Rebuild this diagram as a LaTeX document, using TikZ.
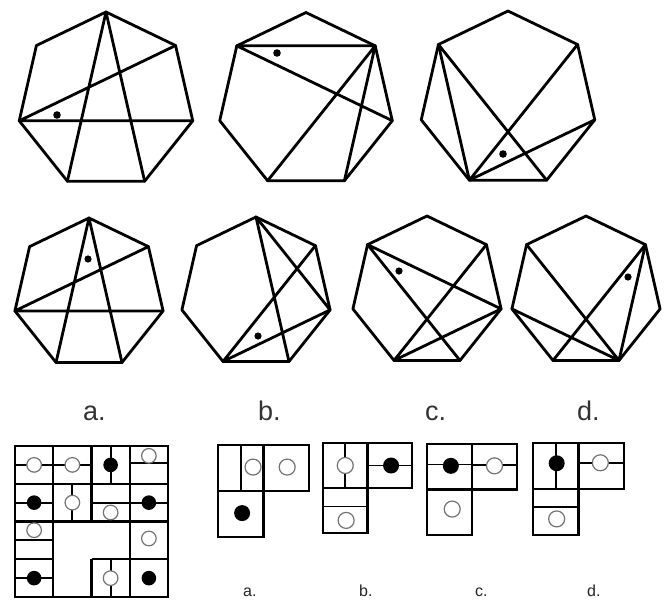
\documentclass[tikz,border=0pt]{standalone}
\usepackage{fontspec}
\setmainfont{Liberation Sans}
\newcommand{\myhept}[4]{%
  \foreach \n/\a in {T/90,UR/38.571,R/-12.857,BR/-64.286,BL/-115.714,L/-167.143,UL/141.429}
    {\coordinate (#1-\n) at ({#2+#4*cos(\a)},{#3-#4*sin(\a)});}
  \draw[hep] (#1-T)--(#1-UR)--(#1-R)--(#1-BR)--(#1-BL)--(#1-L)--(#1-UL)--cycle;
}
\begin{document}
\begin{tikzpicture}[x=1pt,y=-1pt,
  hep/.style={line width=2.8pt, line join=round, line cap=round},
  dotf/.style={fill=black},
  box/.style={line width=2.1pt, line join=miter},
  inl/.style={line width=1.9pt},
  opn/.style={draw=black!55, fill=white, line width=1.2pt},
  fil/.style={fill=black},
  biglab/.style={font=\fontsize{27}{30}\selectfont, text=black!80, inner sep=0pt, anchor=base west},
  smllab/.style={font=\fontsize{16}{18}\selectfont, text=black!85, inner sep=0pt, anchor=base west}]
\useasboundingbox (0,0) rectangle (668,600);
\fill[white] (0,0) rectangle (668,600);

% ---- top row heptagons ----
\myhept{h1}{106}{101}{89}
\draw[hep] (h1-T)--(h1-BL) (h1-T)--(h1-BR) (h1-L)--(h1-UR) (h1-L)--(h1-R);
\fill[dotf] (57,115) circle (3.8);

\myhept{h2}{306}{101}{88.5}
\draw[hep] (h2-UL)--(h2-UR) (h2-UL)--(h2-R) (h2-UR)--(h2-BL) (h2-UR)--(h2-BR);
\fill[dotf] (277,53) circle (3.8);

\myhept{h3}{508}{100}{89}
\draw[hep] (h3-UL)--(h3-BL) (h3-UL)--(h3-BR) (h3-UR)--(h3-BL) (h3-R)--(h3-BL);
\fill[dotf] (503,154) circle (3.8);

% ---- second row heptagons ----
\myhept{ha}{89}{294}{76}
\draw[hep] (ha-T)--(ha-BL) (ha-T)--(ha-BR) (ha-L)--(ha-UR) (ha-L)--(ha-R);
\fill[dotf] (88,259) circle (3.6);

\myhept{hb}{256}{293}{76}
\draw[hep] (hb-T)--(hb-BR) (hb-T)--(hb-R) (hb-UR)--(hb-BL) (hb-R)--(hb-BL);
\fill[dotf] (258,336) circle (3.6);

\myhept{hc}{427}{292}{76}
\draw[hep] (hc-UL)--(hc-R) (hc-UL)--(hc-BR) (hc-UR)--(hc-BL) (hc-R)--(hc-BL);
\fill[dotf] (399,271) circle (3.6);

\myhept{hd}{586}{292}{76}
\draw[hep] (hd-UL)--(hd-BR) (hd-UR)--(hd-BL) (hd-UR)--(hd-BR) (hd-L)--(hd-BR);
\fill[dotf] (628,277) circle (3.6);

% ---- labels under heptagons ----
\node[biglab] (la) at (83,420) {a.};
\node[biglab] (lb) at (258,420) {b.};
\node[biglab] (lc) at (425,420) {c.};
\node[biglab] (ld) at (577,420) {d.};

% ---- grid ----
\begin{scope}[shift={(15,446)}, x=38.25pt, y=-37.75pt]
  \draw[inl] (0,.5)--(2,.5) (2.5,0)--(2.5,1) (3,.46)--(4,.46)
             (0,1.5)--(1,1.5) (1.5,1)--(1.5,2) (2,1.5)--(3,1.5) (3,1.5)--(4,1.5)
             (0,2.5)--(1,2.5) (0,3.5)--(1,3.5) (2.5,3)--(2.5,4);
  \draw[box] (0,0) rectangle (4,4);
  \draw[box] (0,1)--(4,1) (0,2)--(4,2) (0,3)--(1,3) (2,3)--(4,3)
             (1,0)--(1,4) (2,0)--(2,2) (2,3)--(2,4) (3,0)--(3,4);
  \foreach \p in {(.5,.5),(1.5,.5),(3.5,.26),(1.5,1.5),(2.5,1.76),(.5,2.23),(3.5,2.45),(2.5,3.5)}
    \draw[opn] \p circle (7.3pt);
  \foreach \p in {(2.5,.5),(.5,1.5),(3.5,1.5),(.5,3.5),(3.5,3.5)}
    \fill[fil] \p circle (7.3pt);
\end{scope}

% ---- option a ----
\begin{scope}[shift={(218,445)}, x=45.5pt, y=-46pt]
  \draw[inl] (0.5,0)--(0.5,1);
  \draw[box] (0,0)--(2,0)--(2,1)--(1,1)--(1,2)--(0,2)--cycle;
  \draw[box] (0,1)--(1,1) (1,0)--(1,1);
  \draw[opn] (0.77,0.48) circle (8pt);
  \draw[opn] (1.52,0.48) circle (8pt);
  \fill[fil] (0.53,1.48) circle (8pt);
\end{scope}

% ---- option b ----
\begin{scope}[shift={(323,443)}, x=44.5pt, y=-45pt]
  \draw[inl] (0.5,0)--(0.5,1) (1,0.5)--(2,0.5) (0,1.41)--(1,1.41);
  \draw[box] (0,0)--(2,0)--(2,1)--(1,1)--(1,2)--(0,2)--cycle;
  \draw[box] (0,1)--(1,1) (1,0)--(1,1);
  \draw[opn] (0.5,0.5) circle (8pt);
  \fill[fil] (1.53,0.5) circle (8pt);
  \draw[opn] (0.52,1.72) circle (8pt);
\end{scope}

% ---- option c ----
\begin{scope}[shift={(427,444)}, x=45pt, y=-45.5pt]
  \draw[inl] (0,0.45)--(1,0.45) (1,0.47)--(2,0.47);
  \draw[box] (0,0)--(2,0)--(2,1)--(1,1)--(1,2)--(0,2)--cycle;
  \draw[box] (0,1)--(1,1) (1,0)--(1,1);
  \fill[fil] (0.53,0.48) circle (8pt);
  \draw[opn] (1.5,0.48) circle (8pt);
  \draw[opn] (0.56,1.43) circle (8pt);
\end{scope}

% ---- option d ----
\begin{scope}[shift={(533,443)}, x=45.5pt, y=-46pt]
  \draw[inl] (0.5,0)--(0.5,1) (1,0.43)--(2,0.43) (0,1.39)--(1,1.39);
  \draw[box] (0,0)--(2,0)--(2,1)--(1,1)--(1,2)--(0,2)--cycle;
  \draw[box] (0,1)--(1,1) (1,0)--(1,1);
  \fill[fil] (0.52,0.44) circle (8pt);
  \draw[opn] (1.48,0.43) circle (8pt);
  \draw[opn] (0.52,1.65) circle (8pt);
\end{scope}

% ---- labels under options ----
\node[smllab] (oa) at (243,596) {a.};
\node[smllab] (ob) at (359,596) {b.};
\node[smllab] (oc) at (475,596) {c.};
\node[smllab] (od) at (587,596) {d.};
\end{tikzpicture}
\end{document}
